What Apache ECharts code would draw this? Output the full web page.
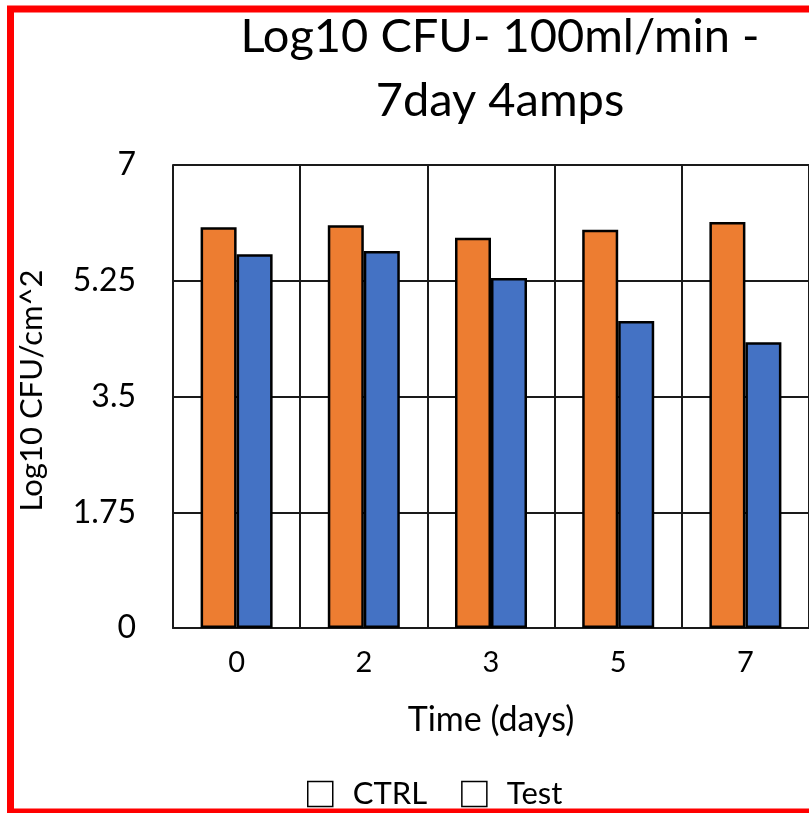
<!DOCTYPE html>
<html><head><meta charset="utf-8">
<script src="https://cdn.jsdelivr.net/npm/echarts@6/dist/echarts.min.js"></script>
<style>html,body{margin:0;padding:0;background:#fff}#c{width:809px;height:813px}</style>
</head><body><div id="c"></div>
<script>
const categories = ['0', '2', '3', '5', '7'];
const ctrlValues = [6.06, 6.09, 5.90, 6.02, 6.14];
const testValues = [5.65, 5.70, 5.29, 4.64, 4.32];
const seriesNames = ['CTRL', 'Test'];
const titleText = 'Log10 CFU- 100ml/min -\n7day 4amps';

const FONT = 'Lato';
const chart = echarts.init(document.getElementById('c'), null, {renderer: 'canvas'});
chart.setOption({
  backgroundColor: '#fff',
  animation: false,
  title: {
    text: titleText,
    left: 495, top: 0, textAlign: 'center',
    textStyle: {fontFamily: FONT, fontSize: 47, fontWeight: 'normal', color: '#000', lineHeight: 64}
  },
  graphic: [{
    type: 'rect', shape: {x: 10.5, y: 9, width: 900, height: 803},
    style: {fill: 'none', stroke: '#ff0000', lineWidth: 7}, z: 100
  }],
  legend: {
    data: seriesNames, left: 307, top: 776, padding: 0,
    icon: 'rect', itemWidth: 25, itemHeight: 25, itemGap: 34,
    itemStyle: {color: '#fff', borderColor: '#000', borderWidth: 1.5},
    textStyle: {fontFamily: FONT, fontSize: 31, color: '#000', padding: [0, 0, 0, 15], lineHeight: 36}
  },
  grid: {left: 173, top: 165, width: 640, height: 463, containLabel: false},
  xAxis: {
    type: 'category', data: categories,
    name: 'Time (days)', nameLocation: 'middle', nameGap: 75,
    nameTextStyle: {fontFamily: FONT, fontSize: 34, color: '#000'},
    axisLine: {show: true, lineStyle: {color: '#1a1a1a', width: 2}},
    axisTick: {show: false},
    splitLine: {show: true, lineStyle: {color: '#1a1a1a', width: 2}},
    axisLabel: {fontFamily: FONT, fontSize: 29, color: '#000', margin: 20}
  },
  yAxis: {
    type: 'value', min: 0, max: 7, interval: 1.75,
    name: 'Log10 CFU/cm^2', nameLocation: 'middle', nameGap: 126,
    nameTextStyle: {fontFamily: FONT, fontSize: 31, color: '#000', padding: [0, 0, 0, 12]},
    axisLine: {show: true, lineStyle: {color: '#1a1a1a', width: 2}},
    axisTick: {show: false},
    splitLine: {show: true, lineStyle: {color: '#1a1a1a', width: 2}},
    axisLabel: {fontFamily: FONT, fontSize: 32, color: '#000', margin: 37}
  },
  series: [
    {name: seriesNames[0], type: 'bar', data: ctrlValues, barWidth: 36, barGap: '0%',
     itemStyle: {color: '#ED7D31', borderColor: '#000', borderWidth: 2.5}},
    {name: seriesNames[1], type: 'bar', data: testValues, barWidth: 36, barGap: '0%',
     itemStyle: {color: '#4472C4', borderColor: '#000', borderWidth: 2.5}}
  ]
});
</script></body></html>
